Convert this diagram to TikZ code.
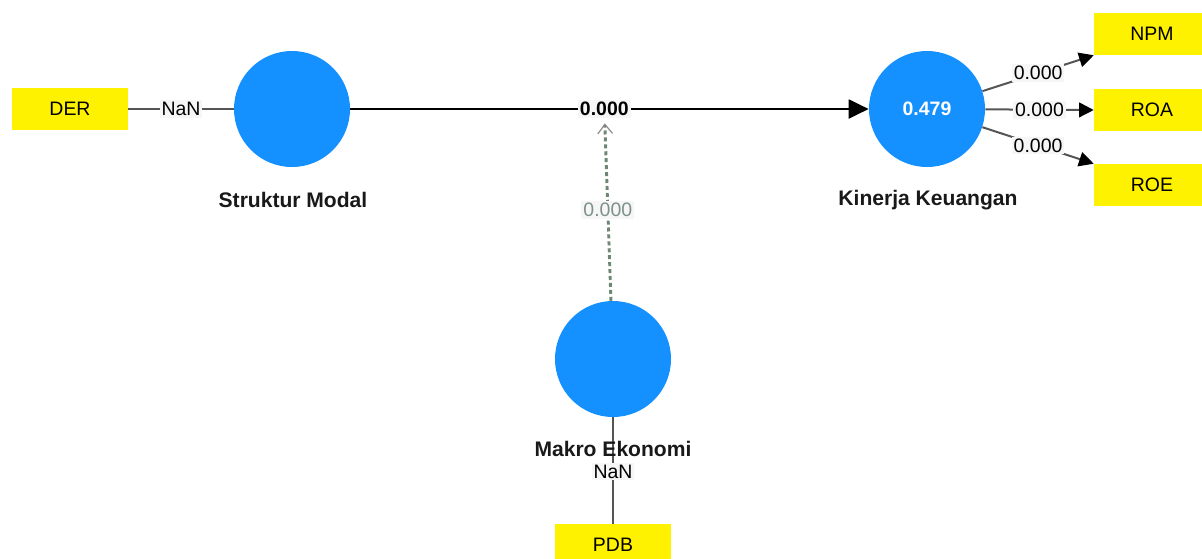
\documentclass[tikz,border=0pt]{standalone}
\usepackage{fontspec}
\setmainfont{Liberation Sans}
\usetikzlibrary{arrows.meta}
\definecolor{lvblue}{RGB}{21,145,255}
\definecolor{lblbg}{RGB}{246,246,246}
\definecolor{dashc}{RGB}{110,135,115}
\definecolor{dashtxt}{RGB}{125,145,140}
\definecolor{linegray}{RGB}{85,85,85}
\tikzset{
  ind/.style={fill=yellow, minimum width=87pt, minimum height=31.5pt, inner sep=0pt, font=\fontsize{14.6}{17}\selectfont},
  lv/.style={circle, fill=lvblue, minimum size=87pt, inner sep=0pt, font=\fontsize{14.6}{17}\selectfont, text=white},
  lvname/.style={font=\bfseries\fontsize{15.8}{18}\selectfont, text=black!90},
  val/.style={fill=lblbg, inner sep=1.5pt, font=\fontsize{14.6}{17}\selectfont},
  loading/.style={draw=linegray, line width=1.5pt},
  outarrow/.style={loading, -{Triangle[length=11pt,width=11pt,fill=black,color=black]}},
  mainarrow/.style={draw=black, line width=2.2pt, -{Triangle[length=15pt,width=14pt]}},
  modarrow/.style={draw=dashc, line width=2.2pt, dash pattern=on 3pt off 2.2pt, shorten >=3pt, -{Straight Barb[length=7pt,width=11pt,line width=0.9pt,color=black!45]}}
}
\begin{document}
\begin{tikzpicture}[x=0.75pt,y=-0.75pt]
\useasboundingbox (0,0) rectangle (1202,558);
\begin{scope}
\clip (0,0) rectangle (1202,558);
% latent variables
\node[lv] (SM) at (292,109) {};
\node[lv] (KK) at (927,109) {\bfseries 0.479};
\node[lv] (ME) at (613,359) {};
% indicators
\node[ind] (DER) at (70,109) {DER};
\node[ind] (NPM) at (1152,34) {NPM};
\node[ind] (ROA) at (1152,110) {ROA};
\node[ind] (ROE) at (1152,185) {ROE};
\node[ind] (PDB) at (613,545) {PDB};
% connectors
\draw[loading] (DER) -- node[val] (nanDER) {NaN} (SM);
\draw[mainarrow] (SM) -- node[val, font=\bfseries\fontsize{14.6}{17}\selectfont, pos=0.49] (mainlbl) {0.000} (KK);
\draw[modarrow] (ME) -- node[val, text=dashtxt] (modlbl) {0.000} (mainlbl);
\draw[outarrow] (KK) -- node[val] (lNPM) {0.000} (NPM.south west);
\draw[outarrow] (KK) -- node[val] (lROA) {0.000} (ROA.west);
\draw[outarrow] (KK) -- node[val] (lROE) {0.000} (ROE.north west);
\draw[loading] (ME) -- node[val, pos=0.51] (nanPDB) {NaN} (PDB);
% names
\node[lvname] (nSM) at (293,200) {Struktur Modal};
\node[lvname] (nKK) at (928,200) {Kinerja Keuangan};
\node[lvname] (nME) at (613,449) {Makro Ekonomi};
\end{scope}
\end{tikzpicture}
\end{document}
